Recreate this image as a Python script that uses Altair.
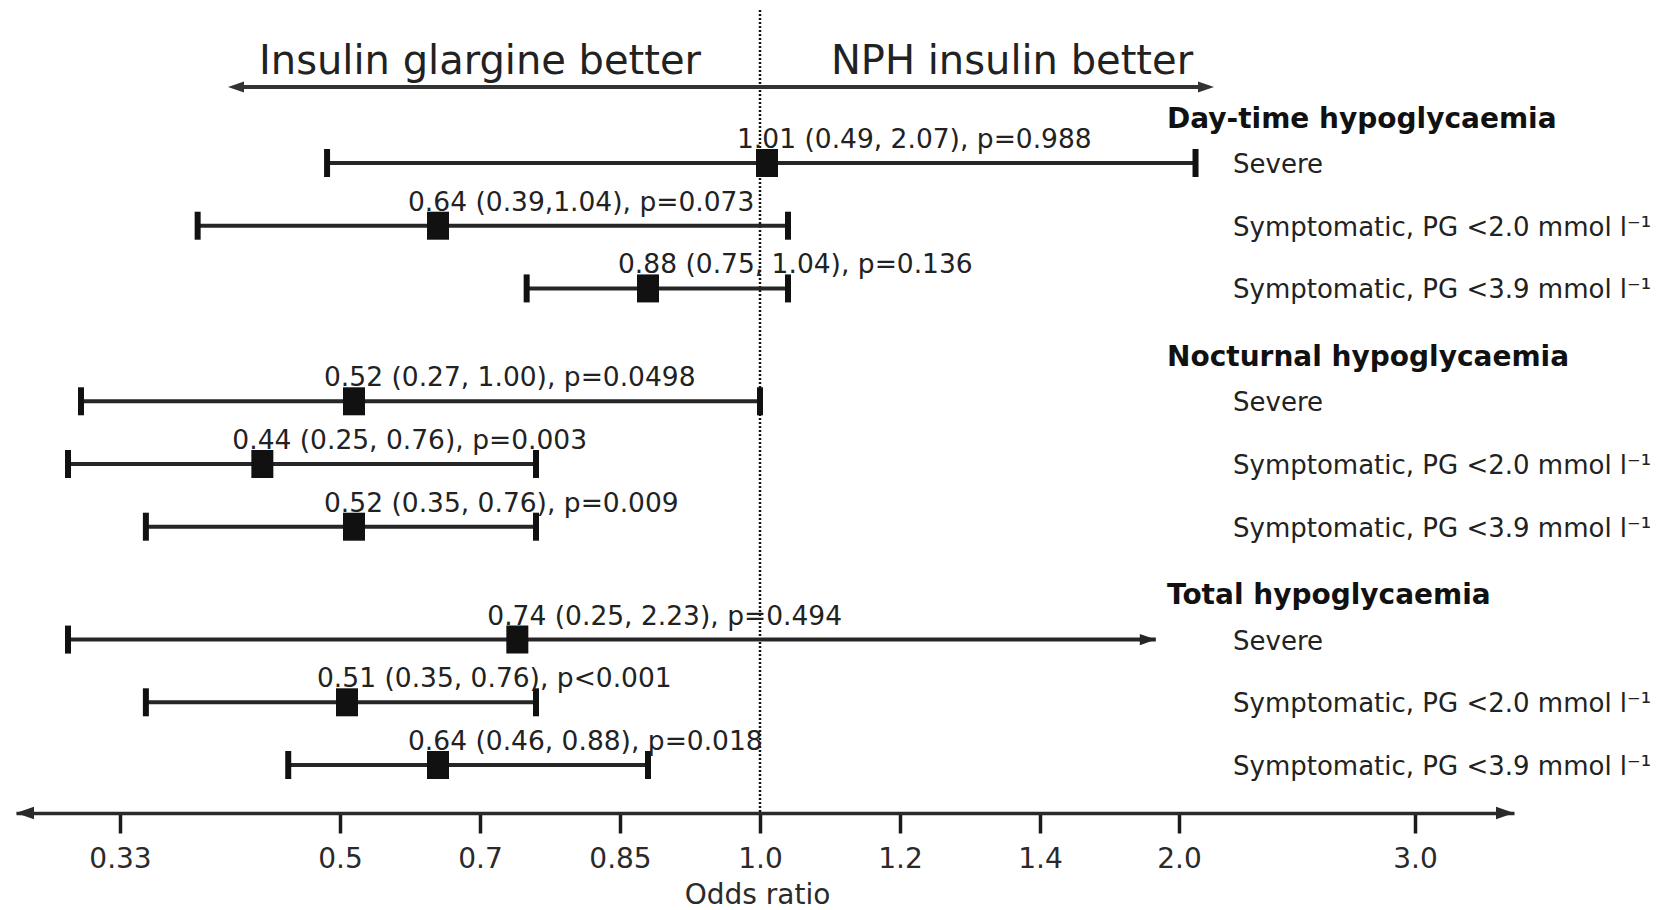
import altair as alt
import pandas as pd

# ---------------------------------------------------------------- data
groups = ["Day-time hypoglycaemia", "Nocturnal hypoglycaemia", "Total hypoglycaemia"]
outcomes = [
    "Severe",
    "Symptomatic, PG <2.0 mmol l\u207b\u00b9",
    "Symptomatic, PG <3.9 mmol l\u207b\u00b9",
]
odds_ratio = [1.01, 0.64, 0.88, 0.52, 0.44, 0.52, 0.74, 0.51, 0.64]
ci_low = [0.49, 0.39, 0.75, 0.27, 0.25, 0.35, 0.25, 0.35, 0.46]
ci_high = [2.07, 1.04, 1.04, 1.00, 0.76, 0.76, 2.23, 0.76, 0.88]
estimate_labels = [
    "1.01 (0.49, 2.07), p=0.988",
    "0.64 (0.39,1.04), p=0.073",
    "0.88 (0.75, 1.04), p=0.136",
    "0.52 (0.27, 1.00), p=0.0498",
    "0.44 (0.25, 0.76), p=0.003",
    "0.52 (0.35, 0.76), p=0.009",
    "0.74 (0.25, 2.23), p=0.494",
    "0.51 (0.35, 0.76), p<0.001",
    "0.64 (0.46, 0.88), p=0.018",
]
favour_labels = ["Insulin glargine better", "NPH insulin better"]
tick_values = [0.33, 0.5, 0.7, 0.85, 1.0, 1.2, 1.4, 2.0, 3.0]

# ---------------------------------------------------------------- layout
W, H = 1674, 910
AXIS_Y = 813                      # height of the odds-ratio axis line
FONT = "DejaVu Sans"
INK = "#222222"

# piecewise odds-ratio axis: ticks are evenly spaced rather than log-spaced
AXIS_BREAKS = [0.17] + tick_values + [3.42]
AXIS_PIXELS = [16, 120, 340, 480, 620, 760, 900, 1040, 1179, 1415, 1514]

GROUP_STEP, ROW_STEP, HEADING_LEAD = 3.8, 1.0, 0.72
CUT_OFF, ARROW_AT = 2.1, 1.9      # intervals past CUT_OFF end in an arrow at ARROW_AT

x_scale = alt.Scale(type="linear", domain=AXIS_BREAKS, range=AXIS_PIXELS,
                    zero=False, nice=False)
y_scale = alt.Scale(domain=[0, 9.6], range=[163, 765], zero=False, nice=False)

x_axis = alt.Axis(
    values=tick_values,
    labelExpr="datum.value < 1 ? toString(datum.value) : format(datum.value, '.1f')",
    offset=AXIS_Y - H,
    grid=False,
    domainColor="#2a2a2a", domainWidth=3.5,
    tickColor="#1a1a1a", tickWidth=3.5, tickSize=20,
    labelFont=FONT, labelFontSize=28, labelColor="#2a2a2a",
    labelPadding=12, labelFlush=False,
    title="Odds ratio", titleFont=FONT, titleFontSize=28,
    titleFontWeight="normal", titleColor="#2a2a2a",
    titleX=757, titleY=90, titleAlign="center", titleBaseline="alphabetic",
)


def xq(field):
    return alt.X(field, type="quantitative", scale=x_scale, axis=x_axis)


def yq():
    return alt.Y("slot:Q", scale=y_scale, axis=None)


rows = pd.DataFrame({
    "group": [g for g in groups for _ in outcomes],
    "outcome": outcomes * len(groups),
    "odds_ratio": odds_ratio,
    "ci_low": ci_low,
    "ci_high": ci_high,
    "label": estimate_labels,
})
rows["slot"] = [g * GROUP_STEP + i * ROW_STEP
                for g in range(len(groups)) for i in range(len(outcomes))]
rows["truncated"] = rows["ci_high"] > CUT_OFF
rows["line_end"] = rows["ci_high"].where(~rows["truncated"], ARROW_AT)

caps = pd.concat([
    pd.DataFrame({"slot": rows["slot"], "x": rows["ci_low"]}),
    pd.DataFrame({"slot": rows.loc[~rows["truncated"], "slot"],
                  "x": rows.loc[~rows["truncated"], "ci_high"]}),
], ignore_index=True)

heads = pd.DataFrame({
    "group": groups,
    "slot": [g * GROUP_STEP - HEADING_LEAD for g in range(len(groups))],
})

one = pd.DataFrame({"k": [0]})
ARROW_R = "M-1,-0.7L1,0L-1,0.7Z"
ARROW_L = "M1,-0.7L-1,0L1,0.7Z"

# ---------------------------------------------------------------- layers
no_effect = alt.Chart(one).mark_rule(
    strokeDash=[2, 2], strokeWidth=2.5, color="#111111"
).encode(
    x=alt.XDatum(1.0, type="quantitative", scale=x_scale, axis=x_axis),
    y=alt.value(10), y2=alt.value(AXIS_Y),
)

ci_lines = alt.Chart(rows).mark_rule(strokeWidth=4, color="#262626").encode(
    x=xq("ci_low"), x2=alt.X2("line_end"), y=yq(),
)

ci_caps = alt.Chart(caps).mark_tick(
    orient="vertical", thickness=6, size=28, color="#111111", opacity=1
).encode(x=xq("x"), y=yq())

ci_arrows = alt.Chart(rows[rows["truncated"]]).mark_point(
    shape=ARROW_R, filled=True, size=256, color="#262626",
    opacity=1, strokeWidth=0, xOffset=-8,
).encode(x=xq("line_end"), y=yq())

markers = alt.Chart(rows).mark_tick(
    orient="vertical", thickness=22, size=28, color="#111111", opacity=1
).encode(x=xq("odds_ratio"), y=yq())

estimates = alt.Chart(rows).mark_text(
    align="left", baseline="alphabetic", dx=-30, dy=-15,
    font=FONT, fontSize=26.5, color=INK,
).encode(x=xq("odds_ratio"), y=yq(), text="label:N")

outcome_text = alt.Chart(rows).mark_text(
    align="left", baseline="alphabetic", dy=10,
    font=FONT, fontSize=26, color=INK,
).encode(x=alt.value(1233), y=yq(), text="outcome:N")

group_text = alt.Chart(heads).mark_text(
    align="left", baseline="alphabetic", dy=10,
    font=FONT, fontSize=28, fontWeight="bold", color="#111111",
).encode(x=alt.value(1167), y=yq(), text="group:N")

# favour arrow across the top
favour_line = alt.Chart(one).mark_rule(strokeWidth=4, color="#333333").encode(
    x=alt.value(236), x2=alt.value(1206), y=alt.value(87),
)
favour_left = alt.Chart(one).mark_point(
    shape=ARROW_L, filled=True, size=256, color="#333333", opacity=1, strokeWidth=0,
).encode(x=alt.value(236), y=alt.value(87))
favour_right = alt.Chart(one).mark_point(
    shape=ARROW_R, filled=True, size=256, color="#333333", opacity=1, strokeWidth=0,
).encode(x=alt.value(1206), y=alt.value(87))


def favour_text(text, px):
    return alt.Chart(one).mark_text(
        align="center", baseline="alphabetic", font=FONT, fontSize=40,
        color=INK, text=text,
    ).encode(x=alt.value(px), y=alt.value(74))


favour_glargine = favour_text(favour_labels[0], 480)
favour_nph = favour_text(favour_labels[1], 1012)

# arrowheads on both ends of the odds-ratio axis
axis_left = alt.Chart(one).mark_point(
    shape=ARROW_L, filled=True, size=324, color="#2a2a2a", opacity=1,
    strokeWidth=0, xOffset=9,
).encode(
    x=alt.XDatum(AXIS_BREAKS[0], type="quantitative", scale=x_scale, axis=x_axis),
    y=alt.value(AXIS_Y),
)
axis_right = alt.Chart(one).mark_point(
    shape=ARROW_R, filled=True, size=324, color="#2a2a2a", opacity=1,
    strokeWidth=0, xOffset=-9,
).encode(
    x=alt.XDatum(AXIS_BREAKS[-1], type="quantitative", scale=x_scale, axis=x_axis),
    y=alt.value(AXIS_Y),
)

chart = alt.layer(
    no_effect, favour_line, favour_left, favour_right,
    favour_glargine, favour_nph,
    ci_lines, ci_caps, ci_arrows, markers, estimates,
    outcome_text, group_text, axis_left, axis_right,
).properties(
    width=W, height=H,
    autosize=alt.AutoSizeParams(type="none"),
    padding=0,
    background="white",
).configure_view(stroke=None)

chart.save("out.html", embed_options={"renderer": "svg", "actions": False})
